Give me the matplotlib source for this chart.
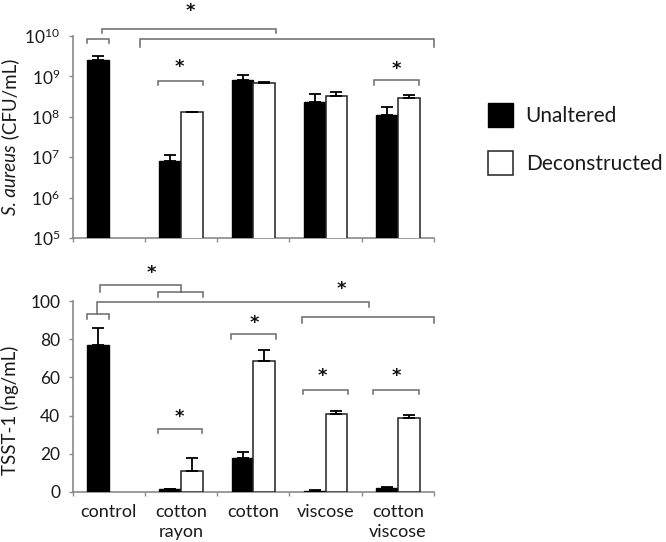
import matplotlib
matplotlib.use("Agg")
import matplotlib.pyplot as plt
import numpy as np
from matplotlib.patches import Patch
from matplotlib.ticker import LogLocator, LogFormatterMathtext, FixedLocator, NullFormatter

plt.rcParams['font.family'] = ['Lato', 'DejaVu Sans']
plt.rcParams['mathtext.fontset'] = 'custom'
plt.rcParams['mathtext.rm'] = 'Lato'
plt.rcParams['mathtext.it'] = 'Lato:italic'

# ---------------- data ----------------
categories = ["control", "cotton\nrayon", "cotton", "viscose", "cotton\nviscose"]
series_names = ["Unaltered", "Deconstructed"]

# S. aureus (CFU/mL); NaN = no bar
sa_unaltered = [2.5e9, 8.1e6, 8.3e8, 2.36e8, 1.1e8]
sa_unaltered_err = [0.7e9, 3.1e6, 2.7e8, 1.34e8, 0.6e8]
sa_decon = [np.nan, 1.3e8, 7.0e8, 3.3e8, 2.9e8]
sa_decon_err = [0, 0, 0.2e8, 0.7e8, 0.5e8]

# TSST-1 (ng/mL)
tsst_unaltered = [77.0, 1.2, 17.7, 0.5, 1.8]
tsst_unaltered_err = [9.1, 0.4, 3.3, 0.2, 0.8]
tsst_decon = [np.nan, 10.7, 68.8, 41.0, 38.7]
tsst_decon_err = [0, 7.2, 5.8, 1.4, 1.6]

# significance brackets: (x0, x1, y, left leg end, right leg end)
sa_brackets = [
    (0.198, 0.502, 8.4e9, 6.8e9, 6.8e9),
    (0.401, 2.813, 1.47e10, 1.19e10, 1.19e10),
    (0.931, 5.0, 8.57e9, 5.43e9, 5.43e9),
    (1.18, 1.804, 7.83e8, 6.12e8, 6.12e8),
    (4.166, 4.792, 8.15e8, 6.12e8, 6.12e8),
]
sa_stars = [(1.633, 6.2e10), (1.47, 2.55e9), (4.474, 2.19e9)]

tsst_brackets = [
    (0.198, 0.502, 93.2, 90.5, 90.5),
    (0.378, 1.495, 108.7, 104.7, 104.7),
    (1.176, 1.799, 104.7, 102.4, 102.4),
    (0.340, 4.097, 99.5, 93.2, 97.2),
    (3.173, 5.0, 91.6, 88.8, 88.8),
    (2.191, 2.813, 82.8, 80.2, 80.2),
    (3.183, 3.806, 53.6, 51.3, 51.3),
    (4.16, 4.79, 53.6, 51.3, 51.3),
    (1.176, 1.793, 32.9, 30.7, 30.7),
]
tsst_stars = [(1.093, 118.2), (3.723, 109.8), (2.509, 91.8), (3.46, 64.3),
              (4.484, 64.4), (1.475, 42.9)]

ylabel_top_italic = "S. aureus"
ylabel_top_rest = " (CFU/mL)"
ylabel_bottom = "TSST-1 (ng/mL)"

# ---------------- figure ----------------
W, H = 666, 542
fig = plt.figure(figsize=(W / 100, H / 100), dpi=100)

def fx(px):
    return px / W

def fy(py):
    return 1 - py / H

ax1 = fig.add_axes([fx(72.7), fy(238), fx(434) - fx(72.7), fy(36) - fy(238)])
ax2 = fig.add_axes([fx(72.7), fy(491.7), fx(434) - fx(72.7), fy(301.3) - fy(491.7)])

spine_col = "#8a8a8a"
br_col = "#6a6a6a"
txt_col = "#1a1a1a"
n = len(categories)
centers = np.arange(n) + 0.5
bw = 0.3
LABEL_FS = 13.5

def style(ax):
    for s in ["top", "right"]:
        ax.spines[s].set_visible(False)
    for s in ["left", "bottom"]:
        ax.spines[s].set_color(spine_col)
        ax.spines[s].set_linewidth(1.2)
    ax.set_xlim(0, n)
    ax.xaxis.set_major_locator(FixedLocator(np.arange(n + 1)))
    ax.xaxis.set_major_formatter(NullFormatter())
    ax.tick_params(axis='x', which='major', length=3, width=1, color=spine_col)
    ax.tick_params(axis='y', which='major', length=3, width=1, color=spine_col,
                   labelsize=12.5, labelcolor=txt_col, pad=6)
    ax.tick_params(axis='y', which='minor', length=0)

def bars(ax, u, ue, d, de):
    ax.bar(centers - bw / 2, u, bw, color="black", edgecolor="black", linewidth=1,
           yerr=[np.zeros(n), ue], error_kw=dict(ecolor="black", elinewidth=1.3,
                                                   capsize=4, capthick=1.3), zorder=3)
    dd = np.array(d, dtype=float)
    mask = ~np.isnan(dd)
    ax.bar((centers + bw / 2)[mask], dd[mask], bw, color="white", edgecolor="#222222",
           linewidth=1.1, yerr=[np.zeros(mask.sum()), np.array(de)[mask]],
           error_kw=dict(ecolor="black", elinewidth=1.3, capsize=4, capthick=1.3),
           zorder=3)

STAR_FS = 13

def brackets(ax, br, stars):
    for x0, x1, y, l0, l1 in br:
        ax.plot([x0, x0, x1, x1], [l0, y, y, l1], color=br_col, lw=1.1,
                clip_on=False, solid_joinstyle='miter', zorder=4)
    for x, y in stars:
        ax.annotate("*", (x, y), xytext=(0, -0.64 * STAR_FS), textcoords="offset points",
                    ha="center", va="baseline", fontsize=STAR_FS, fontweight="bold",
                    family="DejaVu Sans", color="#111111", annotation_clip=False)

# top panel
style(ax1)
ax1.set_yscale("log")
ax1.set_ylim(1e5, 1e10)
ax1.yaxis.set_major_locator(LogLocator(base=10, numticks=10))
ax1.yaxis.set_major_formatter(LogFormatterMathtext())
bars(ax1, sa_unaltered, sa_unaltered_err, sa_decon, sa_decon_err)
brackets(ax1, sa_brackets, sa_stars)

# bottom panel
style(ax2)
ax2.set_ylim(0, 100)
ax2.set_yticks([0, 20, 40, 60, 80, 100])
bars(ax2, tsst_unaltered, tsst_unaltered_err, tsst_decon, tsst_decon_err)
brackets(ax2, tsst_brackets, tsst_stars)
ax2.set_xticks(centers, minor=True)
ax2.set_xticklabels(categories, minor=True, fontsize=13, color=txt_col,
                    linespacing=1.35)
ax2.tick_params(axis='x', which='minor', length=0, pad=8.5)

# ---- y labels (rotated, built from pieces so the italic part uses Lato Italic)
renderer = fig.canvas.get_renderer()

def text_width(s, **kw):
    t = fig.text(0, 0, s, fontsize=LABEL_FS, **kw)
    w = t.get_window_extent(renderer).width
    t.remove()
    return w

base_x = 16.0  # pixel x of text baseline

def rotated_label(pieces, center_py):
    widths = [text_width(s, style=st) for s, st in pieces]
    total = sum(widths)
    start = (H - center_py) - total / 2  # display y (from bottom)
    pos = start
    for (s, st), w in zip(pieces, widths):
        fig.text(base_x / W, pos / H, s, fontsize=LABEL_FS, style=st, color=txt_col,
                 rotation=90, rotation_mode="anchor", ha="left", va="baseline")
        pos += w

rotated_label([(ylabel_top_italic, "italic"), (ylabel_top_rest, "normal")], 137)
rotated_label([(ylabel_bottom, "normal")], 410.5)

# legend
handles = [Patch(facecolor="black", edgecolor="black"),
           Patch(facecolor="white", edgecolor="#222222", linewidth=1.1)]
leg = fig.legend(handles, series_names, loc="upper left",
                 bbox_to_anchor=(fx(484), fy(99)), frameon=False, fontsize=15,
                 handlelength=1.2, handleheight=1.4, labelspacing=1.12,
                 handletextpad=0.6, borderpad=0.2, borderaxespad=0)
for t in leg.get_texts():
    t.set_color(txt_col)

fig.savefig("out.png", dpi=100)
